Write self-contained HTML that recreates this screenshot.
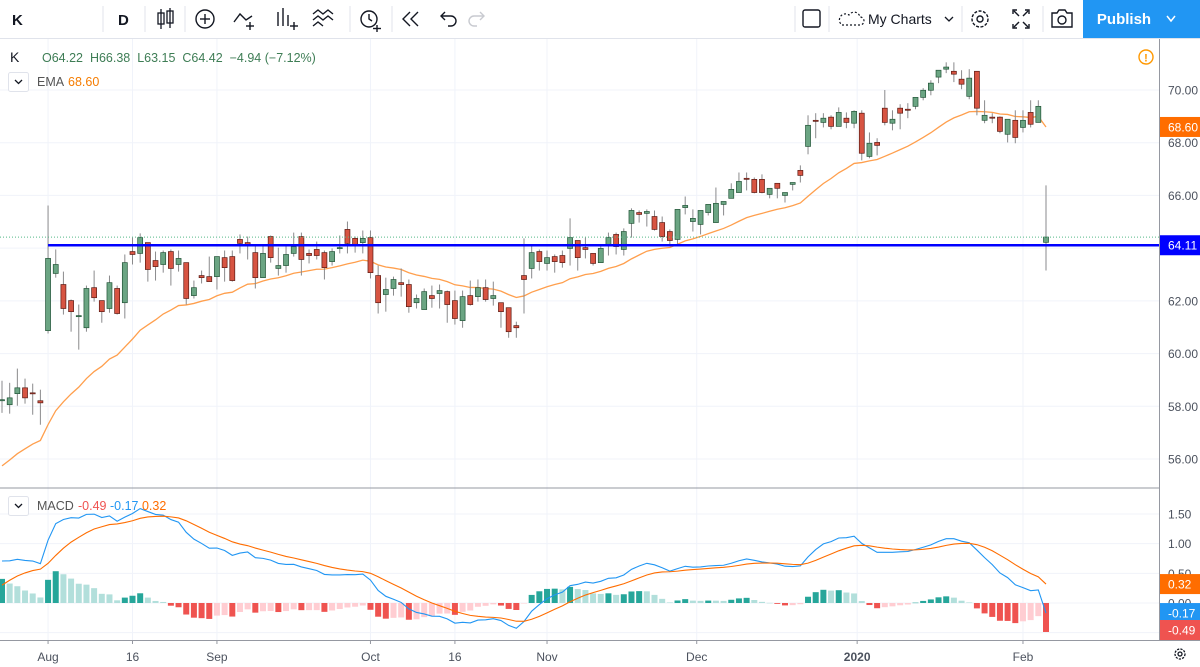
<!DOCTYPE html>
<html><head><meta charset="utf-8"><style>
html,body{margin:0;padding:0;background:#fff;width:1200px;height:667px;overflow:hidden;font-family:"Liberation Sans",sans-serif}
svg{display:block}
text{font-family:"Liberation Sans",sans-serif}
</style></head><body>
<svg id="chart" width="1200" height="667" viewBox="0 0 1200 667" xmlns="http://www.w3.org/2000/svg">
<g id="grid"></g>
<g id="toolbar">
  <rect x="0" y="0" width="1200" height="38" fill="#fff"/>
  <line x1="0" y1="38.5" x2="1200" y2="38.5" stroke="#e0e3eb"/>
  <text x="12" y="25" font-size="15" font-weight="bold" fill="#131722">K</text>
  <line x1="103" y1="6" x2="103" y2="32" stroke="#e0e3eb"/>
  <text x="118" y="25" font-size="15" font-weight="bold" fill="#131722">D</text>
  <line x1="145" y1="6" x2="145" y2="32" stroke="#e0e3eb"/>
  <g stroke="#131722" fill="none" stroke-width="1.3">
    <line x1="161" y1="9" x2="161" y2="29"/><rect x="158" y="13" width="6" height="11"/>
    <line x1="170" y1="8" x2="170" y2="28"/><rect x="167" y="11" width="6" height="12"/>
  </g>
  <line x1="185" y1="6" x2="185" y2="32" stroke="#e0e3eb"/>
  <g stroke="#131722" fill="none" stroke-width="1.4">
    <circle cx="205" cy="19" r="9"/><line x1="200" y1="19" x2="210" y2="19"/><line x1="205" y1="14" x2="205" y2="24"/>
  </g>
  <g stroke="#131722" fill="none" stroke-width="1.4">
    <polyline points="234,22 240,14 246,20 252,16"/><line x1="250" y1="22" x2="250" y2="30"/><line x1="246" y1="26" x2="254" y2="26"/>
  </g>
  <g stroke="#131722" fill="none" stroke-width="1.4">
    <line x1="278" y1="12" x2="278" y2="26"/><line x1="283" y1="8" x2="283" y2="26"/><line x1="288" y1="15" x2="288" y2="26"/><line x1="294" y1="22" x2="294" y2="30"/><line x1="290" y1="26" x2="298" y2="26"/>
  </g>
  <g stroke="#131722" fill="none" stroke-width="1.4">
    <polyline points="313,14 318,10 323,14 328,10 333,14"/><polyline points="313,20 318,16 323,20 328,16 333,20"/><polyline points="313,26 318,22 323,26"/>
  </g>
  <line x1="350" y1="6" x2="350" y2="32" stroke="#e0e3eb"/>
  <g stroke="#131722" fill="none" stroke-width="1.4">
    <circle cx="369" cy="19" r="8"/><polyline points="369,14 369,19 372,21"/><line x1="377" y1="25" x2="377" y2="32"/><line x1="373" y1="28.5" x2="381" y2="28.5"/>
  </g>
  <line x1="392" y1="6" x2="392" y2="32" stroke="#e0e3eb"/>
  <g stroke="#131722" fill="none" stroke-width="1.4">
    <polyline points="410,12 403,19 410,26"/><polyline points="418,12 411,19 418,26"/>
  </g>
  <g stroke="#131722" fill="none" stroke-width="1.4">
    <path d="M441 16 h10 a5 5 0 0 1 0 10 h-3"/><polyline points="445,12 441,16 445,20"/>
  </g>
  <g stroke="#c8cad0" fill="none" stroke-width="1.4">
    <path d="M484 16 h-10 a5 5 0 0 0 0 10 h3"/><polyline points="480,12 484,16 480,20"/>
  </g>
  <line x1="795" y1="6" x2="795" y2="32" stroke="#e0e3eb"/>
  <rect x="803" y="10" width="17" height="17" rx="2" fill="none" stroke="#131722" stroke-width="1.4"/>
  <line x1="829" y1="6" x2="829" y2="32" stroke="#e0e3eb"/>
  <g>
    <path d="M842 25 h18 a4 4 0 0 0 0-8 a6 6 0 0 0-11-2 a5 5 0 0 0-7 10z" fill="none" stroke="#131722" stroke-width="1.2" stroke-dasharray="2 2"/>
    <text x="868" y="24" font-size="14" fill="#131722">My Charts</text>
    <polyline points="945,17 949,21 953,17" fill="none" stroke="#131722" stroke-width="1.3"/>
  </g>
  <line x1="962" y1="6" x2="962" y2="32" stroke="#e0e3eb"/>
  <g fill="none" stroke="#131722" stroke-width="1.4">
    <circle cx="980" cy="19" r="8" stroke-dasharray="3 1.5"/><circle cx="980" cy="19" r="3"/>
  </g>
  <g fill="none" stroke="#131722" stroke-width="1.4">
    <polyline points="1013,14 1013,10 1017,10"/><polyline points="1025,10 1029,10 1029,14"/><polyline points="1013,24 1013,28 1017,28"/><polyline points="1025,28 1029,28 1029,24"/>
    <line x1="1014" y1="11" x2="1019" y2="16"/><line x1="1028" y1="11" x2="1023" y2="16"/><line x1="1014" y1="27" x2="1019" y2="22"/><line x1="1028" y1="27" x2="1023" y2="22"/>
  </g>
  <line x1="1043" y1="6" x2="1043" y2="32" stroke="#e0e3eb"/>
  <g fill="none" stroke="#131722" stroke-width="1.4">
    <path d="M1052 13 h5 l2-3 h6 l2 3 h5 v14 h-20z"/><circle cx="1062" cy="20" r="4"/>
  </g>
  <g>
    <rect x="1083" y="0" width="117" height="38" fill="#2196f3"/>
    <text x="1124" y="24" font-size="15" fill="#fff" text-anchor="middle" font-weight="bold">Publish</text>
    <polyline points="1167,16 1171,21 1175,16" fill="none" stroke="#fff" stroke-width="1.5"/>
  </g>
</g>
<g id="panes">
  <line x1="0" y1="488" x2="1200" y2="488" stroke="#9598a1"/>
  <line x1="0" y1="640.5" x2="1200" y2="640.5" stroke="#9598a1"/>
  <line x1="1159.5" y1="39" x2="1159.5" y2="640" stroke="#9598a1"/>
</g>
<g id="ema"></g>
<g id="candles"></g>
<g id="hist"></g>
<g id="macdlines"></g>
<g id="hline"></g>
<g id="axes"></g>
<g id="legend">
  <text x="10" y="62" font-size="14" fill="#131722">K</text>
  <text x="42" y="62" font-size="12.5" fill="#3e7d55" xml:space="preserve">O64.22  H66.38  L63.15  C64.42  −4.94 (−7.12%)</text>
  <rect x="8.5" y="72.5" width="20" height="19" rx="2" fill="#fff" stroke="#e0e3eb"/>
  <polyline points="15,80 18.5,83.5 22,80" fill="none" stroke="#131722" stroke-width="1.3"/>
  <text x="37" y="86" font-size="12.5" fill="#555">EMA</text>
  <text id="emaLegend" x="68" y="86" font-size="12.5" fill="#f57c00"></text>
  <rect x="8.5" y="496.5" width="20" height="19" rx="2" fill="#fff" stroke="#e0e3eb"/>
  <polyline points="15,504 18.5,507.5 22,504" fill="none" stroke="#131722" stroke-width="1.3"/>
  <text x="37" y="510" font-size="12.5" fill="#555">MACD</text>
  <text id="macdLegend" x="78" y="510" font-size="12.5"></text>
  <g>
    <circle cx="1146" cy="57" r="7" fill="none" stroke="#ff9800" stroke-width="1.4"/>
    <text x="1146" y="61.5" font-size="11" fill="#ff9800" text-anchor="middle" font-weight="bold">!</text>
  </g>
  <g fill="none" stroke="#131722" stroke-width="1.3">
    <circle cx="1180" cy="654" r="5" stroke-dasharray="2.2 1.2"/><circle cx="1180" cy="654" r="2"/>
  </g>
</g>
</svg>
<script>
// ---- data ----
const opens=[58.21,58.06,58.48,58.70,58.51,58.21,60.87,63.04,62.62,62.01,61.40,60.98,62.50,62.01,61.71,62.47,61.93,63.87,63.80,64.21,63.53,63.38,63.87,63.38,63.45,62.20,62.96,62.92,62.92,63.64,63.68,64.33,64.21,63.83,62.88,64.44,63.23,63.34,63.80,64.44,63.80,63.95,63.83,63.49,63.99,64.71,64.37,64.21,64.40,62.96,62.24,62.47,62.69,62.62,61.93,61.67,62.20,62.28,62.35,62.01,61.25,62.20,62.16,62.50,62.09,61.93,61.74,61.06,62.96,63.23,63.87,63.42,63.68,63.72,63.99,64.29,64.02,63.80,63.45,64.10,64.52,63.95,64.94,65.35,65.32,65.20,64.97,64.63,64.33,65.54,65.01,64.90,65.35,64.97,65.66,65.89,66.11,66.65,66.61,66.61,66.04,66.46,66.00,66.42,66.95,67.86,68.85,68.77,68.97,68.62,68.93,68.74,69.12,67.48,68.01,69.31,68.74,69.31,69.27,69.38,69.72,69.99,70.49,70.79,70.71,70.41,69.76,70.71,68.85,68.97,68.97,68.32,68.85,68.58,69.15,68.77,64.22];
const highs=[58.97,58.89,59.43,59.05,58.86,58.63,65.62,63.95,63.11,62.05,61.86,62.58,63.15,62.01,62.96,62.58,63.76,64.40,64.56,64.21,63.87,63.91,63.95,63.91,63.45,62.77,63.15,63.68,63.68,63.91,63.91,64.52,64.44,64.10,64.14,64.48,64.02,64.10,64.59,64.59,63.95,64.25,63.91,63.99,64.48,65.01,64.44,64.67,64.67,63.34,62.88,62.92,63.23,62.81,62.24,62.47,62.58,62.62,62.39,62.39,62.39,62.77,62.81,62.81,62.73,61.93,61.74,61.21,64.37,64.10,63.95,63.91,63.76,63.91,65.13,64.29,64.40,63.80,64.14,64.59,64.59,64.75,65.51,65.43,65.47,65.43,65.20,64.71,65.47,65.96,65.47,65.43,65.66,66.30,65.77,66.46,66.87,66.87,66.68,66.80,66.27,66.46,66.11,66.49,67.14,69.04,69.12,69.12,69.04,69.34,69.15,69.23,69.23,68.39,68.17,70.00,69.23,69.46,69.50,69.72,70.07,70.37,70.75,71.05,71.05,70.75,70.79,70.71,69.61,69.12,69.00,68.89,69.23,69.23,69.61,69.61,66.38];
const lows=[57.75,57.72,58.02,58.10,57.68,57.30,60.76,62.88,61.48,60.83,60.15,60.83,61.97,61.17,61.55,61.48,61.33,63.38,63.45,62.73,62.77,63.07,62.58,63.11,61.86,62.09,62.66,62.73,62.43,62.73,62.73,63.80,63.57,62.47,62.88,63.45,62.96,63.07,63.68,62.96,63.42,63.57,62.81,63.34,63.80,63.80,63.83,63.80,62.85,61.52,61.59,62.20,62.16,61.55,61.71,61.67,61.74,61.71,61.17,61.10,60.98,61.82,61.97,61.97,61.82,60.98,60.60,60.60,61.52,62.85,63.15,63.15,63.07,63.26,63.34,63.15,63.61,63.34,63.45,63.72,63.76,63.72,64.40,64.97,64.82,64.67,64.25,64.06,64.10,65.28,64.63,64.52,65.24,64.97,65.24,65.89,66.11,66.19,66.08,66.08,65.89,65.89,65.73,66.19,66.49,67.56,68.17,68.58,68.51,68.62,68.55,68.55,67.33,67.41,67.52,68.66,68.47,68.51,68.93,69.27,69.61,69.80,70.26,70.64,70.30,70.03,69.65,69.04,68.74,68.74,68.36,68.01,67.98,68.39,68.58,68.77,63.15];
const closes=[58.25,58.32,58.70,58.32,58.48,58.13,63.61,63.38,61.71,61.59,61.44,62.47,62.12,61.59,62.69,61.52,63.45,63.76,64.40,63.19,63.30,63.83,63.23,63.61,62.09,62.50,62.88,62.73,63.68,63.26,62.77,64.18,64.14,62.88,63.80,63.64,63.34,63.76,64.06,63.57,63.72,63.72,63.26,63.87,64.02,64.18,64.14,64.37,63.07,61.93,62.43,62.81,62.62,61.78,62.09,62.35,62.09,62.39,61.86,61.33,62.16,61.86,62.50,62.05,62.20,61.59,60.83,60.98,62.81,63.83,63.49,63.64,63.49,63.45,64.40,63.64,63.95,63.42,63.99,64.40,64.06,64.63,65.43,65.28,65.39,64.71,64.44,64.29,65.47,65.62,65.13,65.43,65.66,65.70,65.77,66.23,66.53,66.61,66.11,66.11,66.27,66.27,66.11,66.49,66.76,68.66,68.81,68.93,68.62,69.15,68.77,69.19,67.60,67.98,67.90,68.77,68.89,69.12,69.23,69.72,69.99,70.26,70.75,70.87,70.60,70.22,70.45,69.31,69.04,68.93,68.43,68.89,68.20,68.85,68.70,69.38,64.42];
const priceTicks=[56,58,60,62,64,66,68,70];
const macdTicks=[-0.5,0,0.5,1.0,1.5];
const dateLabels=["Aug","16","Sep","Oct","16","Nov","Dec","2020","Feb"];
const dateIdx=[6,17,28,48,59,71,90.5,111.4,133];
const hLevel=64.11;
const emaPeriod=22, emaSeed=55.5;
const ema12Seed=57.5, ema26Seed=56.8, signalSeed=0.2;

// ---- axes ----
const NS="http://www.w3.org/2000/svg";
const X0=2, X1=1046, N=closes.length;
function xI(i){return X0+i*(X1-X0)/(N-1);}
function yP(p){return 90+(70-p)*26.357;}
function yM(v){return 603-v*59.33;}
function mk(tag,attrs,parent){const e=document.createElementNS(NS,tag);for(const k in attrs)e.setAttribute(k,attrs[k]);parent.appendChild(e);return e;}
const G=id=>document.getElementById(id);

// grid
const grid=G('grid');
priceTicks.forEach(p=>{const l=mk('line',{x1:0,x2:1159,y1:yP(p),y2:yP(p),stroke:'#f0f3fa'},grid);

});
macdTicks.forEach(v=>{const l=mk('line',{x1:0,x2:1159,y1:yM(v),y2:yM(v),stroke:'#f0f3fa'},grid);

});
dateIdx.forEach(i=>{const l=mk('line',{x1:xI(i),x2:xI(i),y1:39,y2:640,stroke:'#f0f3fa'},grid);

});

// EMA
const ema=[];let e=emaSeed;const k=2/(emaPeriod+1);
closes.forEach((c,i)=>{e=e+(c-e)*k;ema.push(e);});
const emaPath=mk('polyline',{points:ema.map((v,i)=>xI(i)+','+yP(v)).join(' '),fill:'none',stroke:'#ff9f4d','stroke-width':1.3},G('ema'));



// candles
const cg=G('candles');
closes.forEach((c,i)=>{
  const o=opens[i],up=c>=o,x=xI(i);
  const w=mk('line',{x1:x,x2:x,y1:yP(highs[i]),y2:yP(lows[i]),stroke:'#8a8a8c','stroke-width':1},cg);
  
  
  const top=yP(Math.max(o,c)),bot=yP(Math.min(o,c));
  const b=mk('rect',{x:x-2.5,y:top,width:5,height:Math.max(1,bot-top),fill:up?'#6ba583':'#d75442',stroke:up?'#225437':'#5b1a13','stroke-width':0.7},cg);
  
  
});

// MACD
const macd=[],sig=[],hist=[];let e12=ema12Seed,e26=ema26Seed,s=signalSeed;
closes.forEach((c,i)=>{e12+= (c-e12)*2/13;e26+=(c-e26)*2/27;const m=e12-e26;s+=(m-s)*2/10;macd.push(m);sig.push(s);hist.push(m-s);});
const hg=G('hist');
hist.forEach((h,i)=>{
  const prev=i>0?hist[i-1]:h;
  const col=h>=0?(h>=prev?'#26a69a':'#b2dfdb'):(h<prev?'#ef5350':'#ffcdd2');
  const y0=yM(0),y1=yM(h);
  const r=mk('rect',{x:xI(i)-3,y:Math.min(y0,y1),width:6,height:Math.max(0.5,Math.abs(y1-y0)),fill:col},hg);
  
  
});
const ml=G('macdlines');
const mp=mk('polyline',{points:macd.map((v,i)=>xI(i)+','+yM(v)).join(' '),fill:'none',stroke:'#2196f3','stroke-width':1.1},ml);


const sp=mk('polyline',{points:sig.map((v,i)=>xI(i)+','+yM(v)).join(' '),fill:'none',stroke:'#ff6d00','stroke-width':1.1},ml);



// horizontal line + last price line
const hl=G('hline');
const last=closes[N-1];
const dl=mk('line',{x1:0,x2:1159,y1:yP(last),y2:yP(last),stroke:'#53b987','stroke-dasharray':'1 2','stroke-width':1},hl);


const bl=mk('line',{x1:xI(6),x2:1159,y1:yP(hLevel),y2:yP(hLevel),stroke:'#0000ff','stroke-width':2.5},hl);



// axes labels
const ax=G('axes');
mk('rect',{x:1160,y:39,width:40,height:601,fill:'#fff'},ax);
priceTicks.forEach(p=>{const t=mk('text',{x:1168,y:yP(p)+4.5,'font-size':12,fill:'#4c525e'},ax);t.textContent=p.toFixed(2);

});
macdTicks.filter(v=>v>=0).forEach(v=>{const t=mk('text',{x:1168,y:yM(v)+4.5,'font-size':12,fill:'#4c525e'},ax);t.textContent=v.toFixed(2);

});
function tag(v,y,col,name){
  const r=mk('rect',{x:1160,y:y-10,width:40,height:20,fill:col},ax);
  
  
  const t=mk('text',{x:1168,y:y+4.5,'font-size':12,fill:'#fff'},ax);t.textContent=v.toFixed(2);
}
const lm=macd[N-1],ls=sig[N-1],lh=hist[N-1];
tag(ema[N-1],yP(ema[N-1]),'#ff6d00','ema-price-tag');
tag(hLevel,yP(hLevel),'#0000ff','line-price-tag');
tag(ls,yM(ls),'#ff6d00','signal-value-tag');
tag(lm,yM(lm),'#2196f3','macd-value-tag');
tag(lh,Math.min(yM(lh),630),'#ef5350','histogram-value-tag');
dateLabels.forEach((d,j)=>{const x=xI(dateIdx[j]);
  const tk=mk('line',{x1:x,x2:x,y1:640,y2:644,stroke:'#9598a1'},ax);
  const t=mk('text',{x:x,y:661,'font-size':12,fill:'#4c525e','text-anchor':'middle','font-weight':d==='2020'?'bold':'normal'},ax);t.textContent=d;
  
  });
G('emaLegend').textContent=ema[N-1].toFixed(2);
G('macdLegend').innerHTML='<tspan fill="#ef5350">'+lh.toFixed(2)+'</tspan> <tspan fill="#2196f3">'+lm.toFixed(2)+'</tspan> <tspan fill="#ff6d00">'+ls.toFixed(2)+'</tspan>';
</script>
</body></html>
